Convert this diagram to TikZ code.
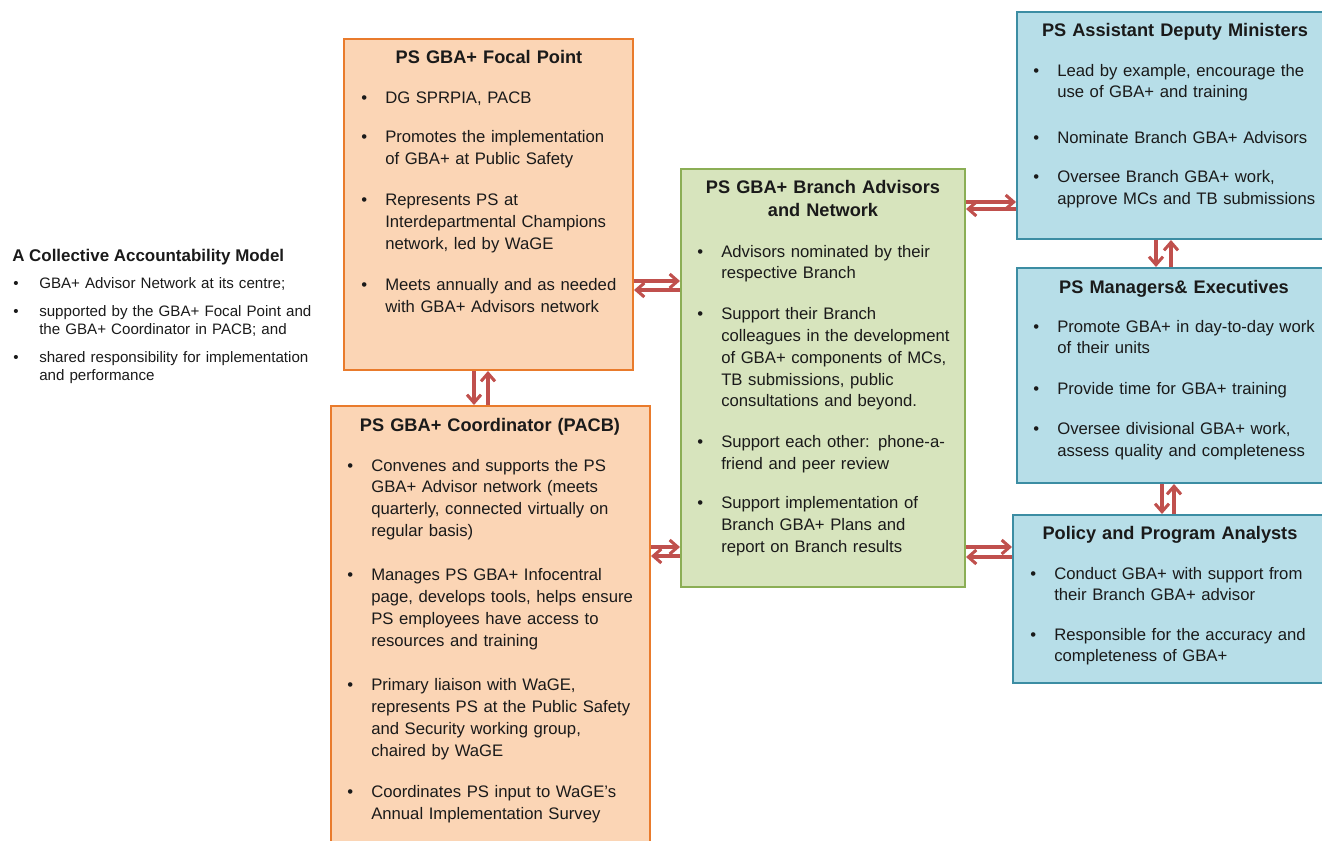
\documentclass[tikz,border=0pt]{standalone}
\usepackage{fontspec}
\setmainfont{Liberation Sans}
\usetikzlibrary{arrows.meta}
\usetikzlibrary{fit}
\usepackage{xcolor}

\definecolor{orFill}{HTML}{FBD5B5}
\definecolor{orLine}{HTML}{E97B2C}
\definecolor{grFill}{HTML}{D7E4BD}
\definecolor{grLine}{HTML}{8BAE55}
\definecolor{blFill}{HTML}{B7DEE8}
\definecolor{blLine}{HTML}{3C8DA3}
\definecolor{arRed}{HTML}{C0504D}
\definecolor{inkDark}{HTML}{1A1A1A}

\newlength{\bind}\setlength{\bind}{18pt}
\newcommand{\bitem}[1]{\hangindent=\bind\hangafter=1\noindent\hbox to \bind{\textbullet\hfil}#1\par}
\newcommand{\igap}[1][14pt]{\vskip#1\relax}
\newcommand{\nl}{\newline}

\tikzset{
  box/.style={draw, line width=1.5pt, inner sep=0pt},
  obox/.style={box, draw=orLine, fill=orFill},
  gbox/.style={box, draw=grLine, fill=grFill},
  bbox/.style={box, draw=blLine, fill=blFill},
  ttl/.style={font=\fontsize{13.65}{17.6}\selectfont\bfseries, text=inkDark, anchor=base,
    inner sep=0pt, text width=260pt, align=center},
  lst/.style={font=\fontsize{12.52}{16.4}\selectfont, text=inkDark, anchor=base west,
    inner sep=0pt, text width=260pt},
  link/.style={draw=arRed, line width=2.3pt, -{Straight Barb[length=6pt,width=10.5pt]}},
}

\begin{document}
\begin{tikzpicture}[x=0.75pt,y=-0.75pt]
  \useasboundingbox (0,0) rectangle (1322,840);
  \clip (0,0) rectangle (1322,840);

  % boxes
  \node[obox, fit={(344,39) (633,370)}] (fp) {};
  \node[obox, fit={(331,406) (650,850)}] (co) {};
  \node[gbox, fit={(681,169) (965,587)}] (br) {};
  \node[bbox, fit={(1017,12) (1335,239)}] (adm) {};
  \node[bbox, fit={(1017,268) (1335,483)}] (mg) {};
  \node[bbox, fit={(1013,515) (1335,683)}] (pa) {};

  % left summary
  \node[font=\fontsize{12.7}{15}\selectfont\bfseries, text=inkDark, anchor=base west, inner sep=0pt]
    (sumT) at (12,261) {A Collective Accountability Model};
  \node[lst, font=\fontsize{11.35}{13.5}\selectfont, execute at begin node={\setlength{\bind}{19.5pt}}]
    (sumL) at (13,288) {%
    \bitem{GBA+ Advisor Network at its centre;}\igap[8pt]
    \bitem{supported by the GBA+ Focal Point and\nl the GBA+ Coordinator in PACB; and}\igap[7.5pt]
    \bitem{shared responsibility for implementation\nl and performance}};

  % focal point
  \node[ttl] (fpT) at (489,63) {PS GBA+ Focal Point};
  \node[lst] (fpL) at (361,103) {%
    \bitem{DG SPRPIA, PACB}\igap[13pt]
    \bitem{Promotes the implementation\nl of GBA+ at Public Safety}\igap[14.5pt]
    \bitem{Represents PS at\nl Interdepartmental Champions\nl network, led by WaGE}\igap[15pt]
    \bitem{Meets annually and as needed\nl with GBA+ Advisors network}};

  % coordinator
  \node[ttl] (coT) at (490,431) {PS GBA+ Coordinator (PACB)};
  \node[lst] (coL) at (347,471) {%
    \bitem{Convenes and supports the PS\nl GBA+ Advisor network (meets\nl quarterly, connected virtually on\nl regular basis)}\igap[16.5pt]
    \bitem{Manages PS GBA+ Infocentral\nl page, develops tools, helps ensure\nl PS employees have access to\nl resources and training}\igap[17pt]
    \bitem{Primary liaison with WaGE,\nl represents PS at the Public Safety\nl and Security working group,\nl chaired by WaGE}\igap[14.5pt]
    \bitem{Coordinates PS input to WaGE’s\nl Annual Implementation Survey}};

  % branch advisors
  \node[ttl] (brT) at (823,193) {PS GBA+ Branch Advisors\\and Network};
  \node[lst] (brL) at (697,257) {%
    \bitem{Advisors nominated by their\nl respective Branch}\igap
    \bitem{Support their Branch\nl colleagues in the development\nl of GBA+ components of MCs,\nl TB submissions, public\nl consultations and beyond.}\igap
    \bitem{Support each other: phone-a-\nl friend and peer review}\igap[13pt]
    \bitem{Support implementation of\nl Branch GBA+ Plans and\nl report on Branch results}};

  % assistant deputy ministers
  \node[ttl] (admT) at (1175,36) {PS Assistant Deputy Ministers};
  \node[lst] (admL) at (1033,76) {%
    \bitem{Lead by example, encourage the\nl use of GBA+ and training}\igap[18pt]
    \bitem{Nominate Branch GBA+ Advisors}\igap[13pt]
    \bitem{Oversee Branch GBA+ work,\nl approve MCs and TB submissions}};

  % managers
  \node[ttl] (mgT) at (1174,293) {PS Managers\& Executives};
  \node[lst] (mgL) at (1033,332) {%
    \bitem{Promote GBA+ in day-to-day work\nl of their units}\igap[13.7pt]
    \bitem{Provide time for GBA+ training}\igap[13.7pt]
    \bitem{Oversee divisional GBA+ work,\nl assess quality and completeness}};

  % analysts
  \node[ttl] (paT) at (1170,539) {Policy and Program Analysts};
  \node[lst] (paL) at (1030,579) {%
    \bitem{Conduct GBA+ with support from\nl their Branch GBA+ advisor}\igap[13pt]
    \bitem{Responsible for the accuracy and\nl completeness of GBA+}};

  % connectors
  \draw[link] (fp.east |- 0,281) -- (br.west |- 0,281);
  \draw[link] (br.west |- 0,290) -- (fp.east |- 0,290);
  \draw[link] (fp.south -| 474,0) -- (co.north -| 474,0);
  \draw[link] (co.north -| 488,0) -- (fp.south -| 488,0);
  \draw[link] (co.east |- 0,547) -- (br.west |- 0,547);
  \draw[link] (br.west |- 0,556) -- (co.east |- 0,556);
  \draw[link] (br.east |- 0,202) -- (adm.west |- 0,202);
  \draw[link] (adm.west |- 0,209) -- (br.east |- 0,209);
  \draw[link] (adm.south -| 1156,0) -- (mg.north -| 1156,0);
  \draw[link] (mg.north -| 1171,0) -- (adm.south -| 1171,0);
  \draw[link] (mg.south -| 1162,0) -- (pa.north -| 1162,0);
  \draw[link] (pa.north -| 1174,0) -- (mg.south -| 1174,0);
  \draw[link] (br.east |- 0,547) -- (pa.west |- 0,547);
  \draw[link] (pa.west |- 0,557) -- (br.east |- 0,557);
\end{tikzpicture}
\end{document}
